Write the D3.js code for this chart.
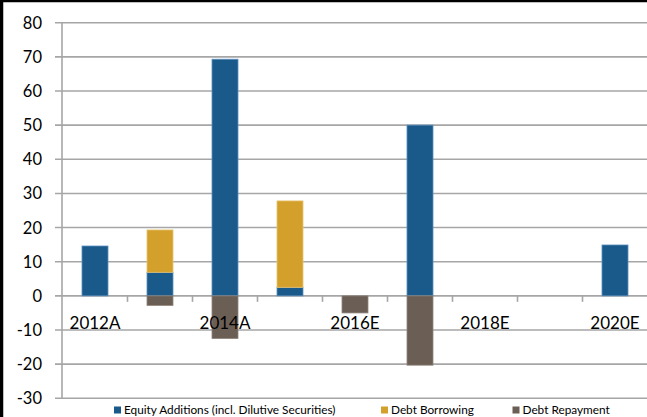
<!DOCTYPE html>
<html><head><meta charset="utf-8">
<script src="https://cdn.jsdelivr.net/npm/d3@7"></script>
<style>html,body{margin:0;padding:0;background:#fff;overflow:hidden}svg{display:block}</style>
</head><body>
<svg id="c" width="647" height="417"></svg>
<script>
const categories = ["2012A","2013A","2014A","2015E","2016E","2017E","2018E","2019E","2020E"];
const equity = [14.6, 6.9, 69.3, 2.5, 0, 50.0, 0, 0, 14.9];
const borrowing = [0, 12.4, 0, 25.3, 0, 0, 0, 0, 0];
const repayment = [0, -2.8, -12.5, 0, -5.0, -20.3, 0, 0, 0];
const seriesNames = ["Equity Additions (incl. Dilutive Securities)", "Debt Borrowing", "Debt Repayment"];
const yTicks = [-30,-20,-10,0,10,20,30,40,50,60,70,80];
const xLabelCats = ["2012A","2014A","2016E","2018E","2020E"];
const colors = ["#1a5a8a", "#d4a02c", "#6b5e55"];
const strokes = ["#5b8fbd", "#e6c270", "#8f847c"];

(function () {
const W = 647, H = 417;
const pLeft = 62.5, pRight = 647.5, pTop = 22.7, pBottom = 398.3;
const svg = d3.select("#c");
const font = "Lato, 'Liberation Sans', sans-serif";

const x = d3.scaleBand().domain(categories).range([pLeft, pRight]).paddingInner(0.6).paddingOuter(0.3);
const y = d3.scaleLinear().domain([-30, 80]).range([pBottom, pTop]);

// gridlines
svg.append("g").selectAll("line").data(yTicks).join("line")
  .attr("x1", 55).attr("x2", W).attr("y1", d => y(d)).attr("y2", d => y(d))
  .attr("stroke", "#a6a6a6").attr("stroke-width", 1.6);
// vertical axis
svg.append("line").attr("x1", pLeft-0.5).attr("x2", pLeft-0.5).attr("y1", pTop).attr("y2", pBottom+0.8)
  .attr("stroke", "#a6a6a6").attr("stroke-width", 1.6);

// y labels
svg.append("g").selectAll("text").data(yTicks).join("text")
  .attr("x", 42).attr("y", d => y(d) + 6).attr("text-anchor", "end")
  .attr("font-family", font).attr("font-size", 16.5).attr("fill", "#000")
  .text(d => d);

// stacked bars
const rows = categories.map((c, i) => ({cat: c, e: equity[i], b: borrowing[i], r: repayment[i]}));
const stack = d3.stack().keys(["e","b","r"]).offset(d3.stackOffsetDiverging);
const stacked = stack(rows);
stacked.forEach((s, k) => {
  svg.append("g").selectAll("rect").data(s.filter(d => d[1] !== d[0])).join("rect")
    .attr("x", d => x(d.data.cat))
    .attr("width", x.bandwidth())
    .attr("y", d => y(Math.max(d[0], d[1])))
    .attr("height", d => Math.abs(y(d[0]) - y(d[1])))
    .attr("fill", colors[k]).attr("stroke", strokes[k]).attr("stroke-width", 0.8);
});

// x ticks at band boundaries
const step = x.step();
const bounds = d3.range(1, categories.length).map(i => pLeft + i * step);
svg.append("g").selectAll("line").data(bounds).join("line")
  .attr("x1", d => d).attr("x2", d => d).attr("y1", y(0)).attr("y2", y(0) + 6)
  .attr("stroke", "#a6a6a6").attr("stroke-width", 1.6);

// x labels
svg.append("g").selectAll("text").data(xLabelCats).join("text")
  .attr("x", d => x(d) + x.bandwidth()/2).attr("y", 328.5).attr("text-anchor", "middle")
  .attr("font-family", font).attr("font-size", 17).attr("fill", "#000")
  .text(d => d);

// legend
const legX = [114, 381, 512.5];
const leg = svg.append("g");
seriesNames.forEach((n, i) => {
  leg.append("rect").attr("x", legX[i]).attr("y", 406.5).attr("width", 7).attr("height", 7).attr("fill", colors[i]);
  leg.append("text").attr("x", legX[i] + 10).attr("y", 414).attr("font-family", font)
    .attr("font-size", 11.8).attr("fill", "#000").text(n);
});

// chart border (left and top)
svg.append("line").attr("x1", 1.5).attr("x2", 1.5).attr("y1", 0).attr("y2", H).attr("stroke", "#000").attr("stroke-width", 3.5);
svg.append("line").attr("x1", 0).attr("x2", W).attr("y1", 1).attr("y2", 1).attr("stroke", "#000").attr("stroke-width", 2.5);
})();
</script>
</body></html>
